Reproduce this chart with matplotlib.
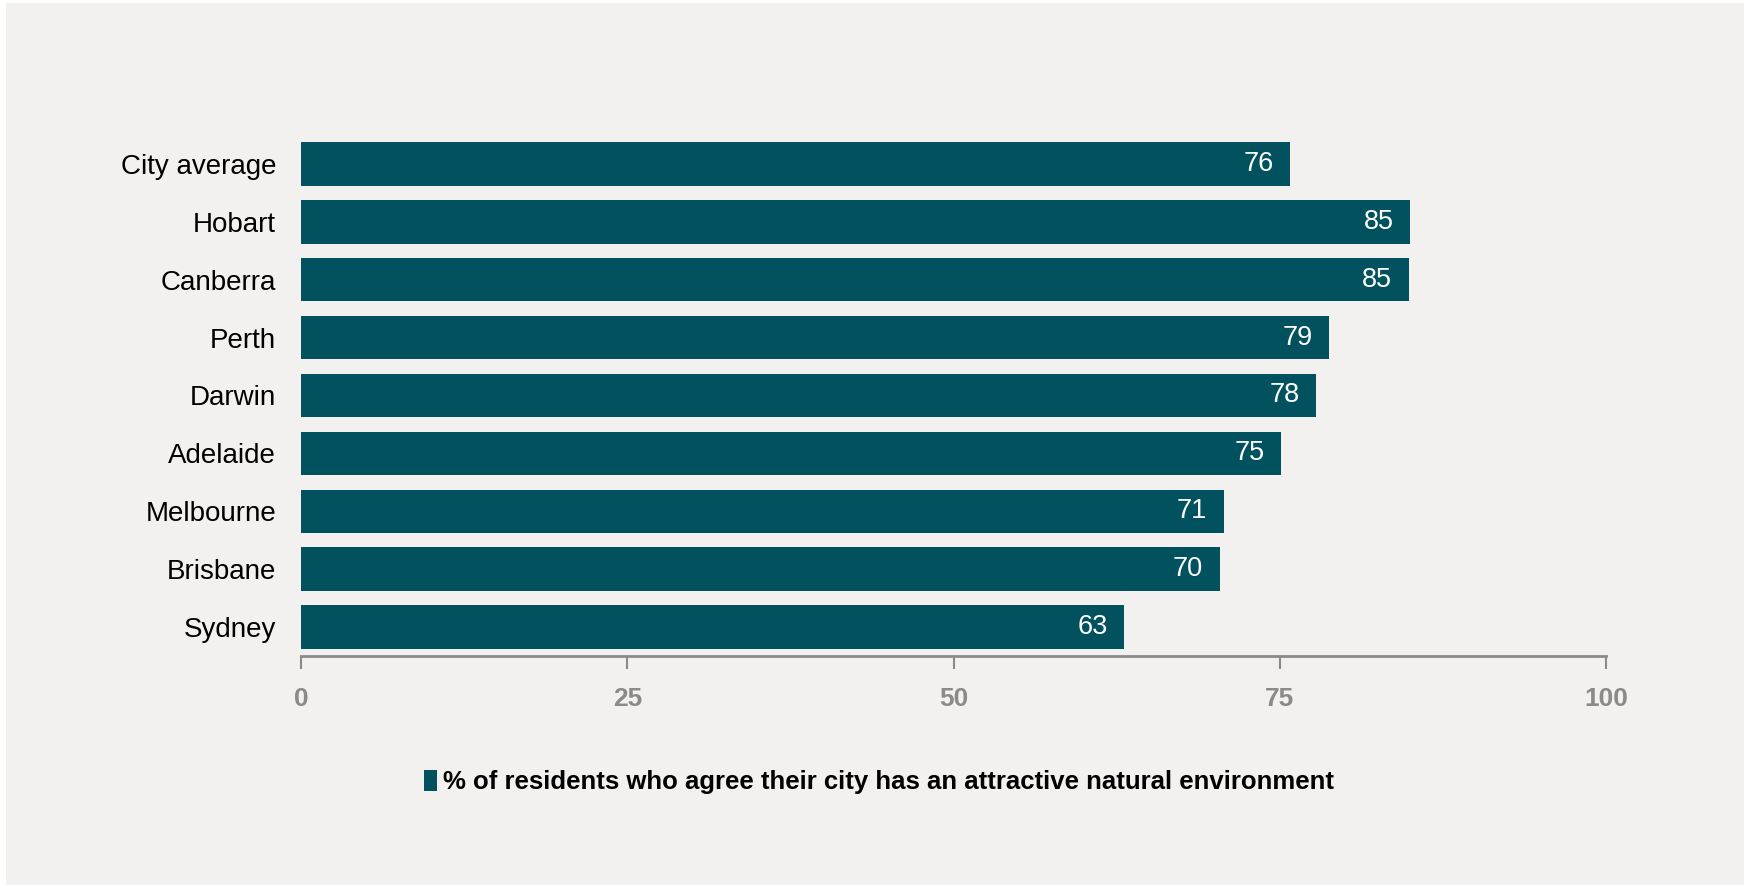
import matplotlib.pyplot as plt
from matplotlib.patches import Rectangle, Patch

cities = ['City average', 'Hobart', 'Canberra', 'Perth', 'Darwin',
          'Adelaide', 'Melbourne', 'Brisbane', 'Sydney']
values = [75.8, 85.0, 84.9, 78.8, 77.8, 75.1, 70.7, 70.4, 63.1]
xticks = [0, 25, 50, 75, 100]
legend_label = '% of residents who agree their city has an attractive natural environment'

bar_color = '#01525e'
bg = '#f2f1ef'
grey = '#8a8a8a'

plt.rcParams['font.family'] = ['Liberation Sans', 'DejaVu Sans']

fig = plt.figure(figsize=(17.44, 8.85), dpi=100, facecolor='white')
# grey panel with thin white strip on top and left
fig.patches.append(Rectangle((6 / 1744, 0), 1, 1 - 3 / 885, transform=fig.transFigure,
                             facecolor=bg, edgecolor='none', zorder=0))

ax = fig.add_axes([0.1726, 0.2588, 0.7483, 0.5887])
ax.set_facecolor('none')
ax.set_zorder(2)

pos = list(range(len(cities)))
ax.barh(pos, values, height=0.75, color=bar_color, linewidth=0)
for p, v in zip(pos, values):
    ax.annotate('{:.0f}'.format(v), (v, p), xytext=(-12, 0), textcoords='offset points',
                ha='right', va='center', color='white', fontsize=19.5)

ax.set_ylim(8.5, -0.5)
ax.set_xlim(0, 100)
ax.set_yticks(pos)
ax.set_yticklabels(cities, fontsize=20)
ax.tick_params(axis='y', length=0, pad=18)
ax.set_xticks(xticks)
ax.set_xticklabels([str(t) for t in xticks], fontsize=19, color=grey, fontweight='bold')
ax.tick_params(axis='x', length=9, width=1.5, color=grey, pad=13)

for s in ['top', 'right', 'left']:
    ax.spines[s].set_visible(False)
ax.spines['bottom'].set_color(grey)
ax.spines['bottom'].set_linewidth(2)

leg = fig.legend(handles=[Patch(facecolor=bar_color, label=legend_label)],
                 loc='center', bbox_to_anchor=(0.504, 0.116), frameon=False,
                 handlelength=0.5, handleheight=0.85, handletextpad=0.25,
                 prop={'size': 18.5, 'weight': 'bold'})
leg.set_zorder(3)

fig.savefig('out.png', dpi=100, facecolor=fig.get_facecolor())
